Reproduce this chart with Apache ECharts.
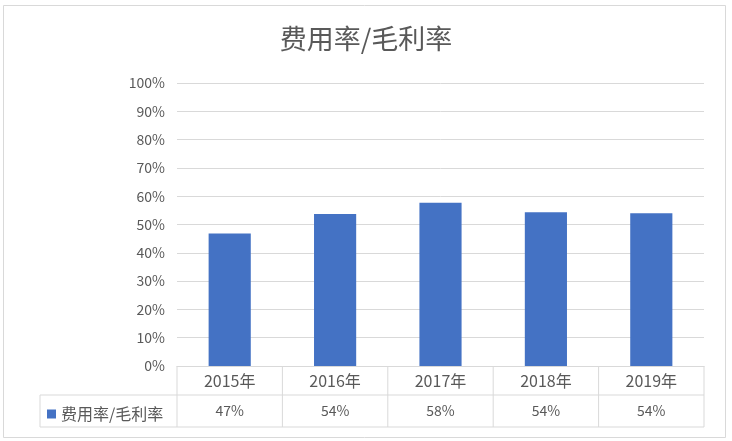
<!DOCTYPE html>
<html>
<head>
    <meta charset="utf-8">
    <title>费用率/毛利率</title>
    <script src="https://cdn.jsdelivr.net/npm/echarts@6/dist/echarts.min.js"></script>
    <style type="text/css">
        html,body{margin:0;padding:0;background:#fff;}
        #main{width:732px;height:441px;}
    </style>
</head>
<body>
    <div id="main"></div>
    <script type="text/javascript">
        // 数据
        var years = ['2015年', '2016年', '2017年', '2018年', '2019年'];
        var rates = [0.468, 0.537, 0.577, 0.543, 0.540];
        var seriesName = '费用率/毛利率';

        // 布局（像素）
        var W = 732, H = 441;
        var gLeft = 177, gRight = 704, gTop = 83, gBottom = 366;
        var row1 = 395, row2 = 427, tableLeft = 40;
        var lineColor = '#d9d9d9', textColor = '#595959';
        var font = '"Noto Sans CJK SC", "Noto Sans", sans-serif';

        // 表格线
        var band = (gRight - gLeft) / years.length;
        var lines = [];
        function hline(x1, x2, y){
            lines.push({type:'line', shape:{x1:x1, y1:y, x2:x2, y2:y}, style:{stroke:lineColor, lineWidth:1}, silent:true});
        }
        function vline(x, y1, y2){
            lines.push({type:'line', shape:{x1:x, y1:y1, x2:x, y2:y2}, style:{stroke:lineColor, lineWidth:1}, silent:true});
        }
        hline(tableLeft, gRight, row1);
        hline(tableLeft, gRight, row2);
        vline(tableLeft, row1, row2);
        for (var i = 0; i <= years.length; i++) {
            vline(gLeft + band * i, gBottom, row2);
        }
        // 外框
        lines.push({type:'rect', shape:{x:3.5, y:5.5, width:722, height:432}, style:{fill:'none', stroke:lineColor, lineWidth:1}, silent:true});

        var myChart = echarts.init(document.getElementById('main'));
        var option = {
            backgroundColor: '#fff',
            title: {
                text: seriesName,
                left: 'center',
                top: 20,
                textStyle: {fontFamily: font, fontSize: 27, fontWeight: 'normal', color: textColor}
            },
            legend: {
                data: [seriesName],
                left: tableLeft + 2,
                top: 401,
                icon: 'rect',
                itemWidth: 9,
                itemHeight: 9,
                itemGap: 4,
                textStyle: {fontFamily: font, fontSize: 16, color: textColor}
            },
            grid: {left: gLeft, right: W - gRight, top: gTop, bottom: H - gBottom, containLabel: false},
            xAxis: {
                type: 'category',
                data: years,
                axisLine: {show: true, lineStyle: {color: lineColor}},
                axisTick: {show: false},
                axisLabel: {
                    margin: 0,
                    interval: 0,
                    formatter: function (val, idx) {
                        return '{y|' + val + '}\n{v|' + Math.round(rates[idx] * 100) + '%}';
                    },
                    rich: {
                        y: {fontFamily: font, fontSize: 16, color: textColor, lineHeight: 29},
                        v: {fontFamily: font, fontSize: 14, color: textColor, lineHeight: 32}
                    }
                }
            },
            yAxis: {
                type: 'value',
                min: 0,
                max: 1,
                interval: 0.1,
                axisLine: {show: false},
                axisTick: {show: false},
                axisLabel: {
                    margin: 12,
                    fontFamily: font,
                    fontSize: 14,
                    color: textColor,
                    formatter: function (v) { return Math.round(v * 100) + '%'; }
                },
                splitLine: {lineStyle: {color: lineColor}}
            },
            series: [{
                name: seriesName,
                type: 'bar',
                barWidth: '40%',
                data: rates,
                itemStyle: {color: '#4472c4'}
            }],
            graphic: lines
        };
        myChart.setOption(option);
    </script>
</body>
</html>
